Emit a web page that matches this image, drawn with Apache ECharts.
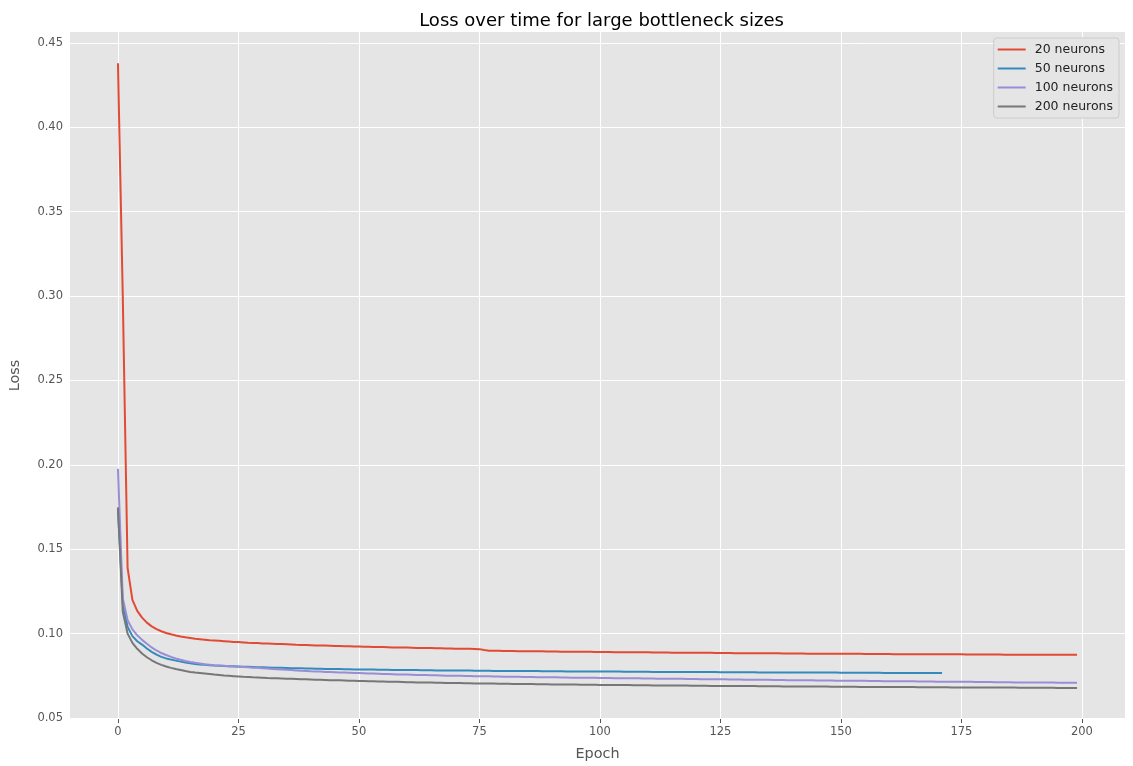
<!DOCTYPE html>
<html>
<head>
<meta charset="utf-8">
<script src="https://cdn.jsdelivr.net/npm/echarts@6/dist/echarts.min.js"></script>
<style>
html,body{margin:0;padding:0;background:#fff;}
#chart{width:1133px;height:766px;}
</style>
</head>
<body>
<div id="chart"></div>
<script>
const seriesNames = ['20 neurons', '50 neurons', '100 neurons', '200 neurons'];
const xTicks = [0, 25, 50, 75, 100, 125, 150, 175, 200];
const yTicks = [0.05, 0.10, 0.15, 0.20, 0.25, 0.30, 0.35, 0.40, 0.45];

const loss20 = [
0.4380,0.3000,0.1390,0.1200,0.1135,0.1095,0.1065,0.1043,0.1027,0.1014,
0.1004,0.0996,0.0989,0.0983,0.0978,0.0974,0.0970,0.0967,0.0964,0.0961,
0.0959,0.0957,0.0955,0.0953,0.0951,0.0950,0.0948,0.0946,0.0945,0.0944,
0.0942,0.0941,0.0940,0.0939,0.0938,0.0937,0.0936,0.0934,0.0933,0.0932,
0.0931,0.0930,0.0929,0.0929,0.0928,0.0927,0.0926,0.0925,0.0925,0.0924,
0.0923,0.0922,0.0922,0.0921,0.0920,0.0920,0.0919,0.0918,0.0918,0.0917,
0.0917,0.0916,0.0915,0.0915,0.0914,0.0914,0.0913,0.0913,0.0912,0.0912,
0.0911,0.0911,0.0910,0.0910,0.0909,0.0908,0.0903,0.0899,0.0898,0.0898,
0.0897,0.0897,0.0897,0.0896,0.0896,0.0896,0.0895,0.0895,0.0895,0.0894,
0.0894,0.0894,0.0893,0.0893,0.0893,0.0893,0.0892,0.0892,0.0892,0.0891,
0.0891,0.0891,0.0891,0.0890,0.0890,0.0890,0.0890,0.0889,0.0889,0.0889,
0.0889,0.0888,0.0888,0.0888,0.0888,0.0887,0.0887,0.0887,0.0887,0.0886,
0.0886,0.0886,0.0886,0.0886,0.0885,0.0885,0.0885,0.0885,0.0884,0.0884,
0.0884,0.0884,0.0884,0.0883,0.0883,0.0883,0.0883,0.0883,0.0882,0.0882,
0.0882,0.0882,0.0882,0.0881,0.0881,0.0881,0.0881,0.0881,0.0881,0.0880,
0.0880,0.0880,0.0880,0.0880,0.0880,0.0879,0.0879,0.0879,0.0879,0.0879,
0.0879,0.0878,0.0878,0.0878,0.0878,0.0878,0.0878,0.0878,0.0877,0.0877,
0.0877,0.0877,0.0877,0.0877,0.0877,0.0877,0.0876,0.0876,0.0876,0.0876,
0.0876,0.0876,0.0876,0.0876,0.0875,0.0875,0.0875,0.0875,0.0875,0.0875,
0.0875,0.0875,0.0875,0.0874,0.0874,0.0874,0.0874,0.0874,0.0874,0.0874
];

const loss50 = [
0.1740,0.1180,0.1040,0.0985,0.0955,0.0935,0.0912,0.0892,0.0875,0.0862,
0.0853,0.0846,0.0840,0.0834,0.0829,0.0824,0.0820,0.0817,0.0815,0.0813,
0.0811,0.0810,0.0808,0.0807,0.0806,0.0805,0.0804,0.0803,0.0802,0.0801,
0.0800,0.0799,0.0798,0.0797,0.0797,0.0796,0.0795,0.0795,0.0794,0.0793,
0.0793,0.0792,0.0792,0.0791,0.0791,0.0790,0.0790,0.0789,0.0789,0.0788,
0.0788,0.0788,0.0787,0.0787,0.0786,0.0786,0.0786,0.0785,0.0785,0.0785,
0.0784,0.0784,0.0784,0.0783,0.0783,0.0783,0.0782,0.0782,0.0782,0.0782,
0.0781,0.0781,0.0781,0.0781,0.0780,0.0780,0.0780,0.0780,0.0779,0.0779,
0.0779,0.0779,0.0779,0.0778,0.0778,0.0778,0.0778,0.0778,0.0777,0.0777,
0.0777,0.0777,0.0777,0.0776,0.0776,0.0776,0.0776,0.0776,0.0776,0.0775,
0.0775,0.0775,0.0775,0.0775,0.0775,0.0774,0.0774,0.0774,0.0774,0.0774,
0.0774,0.0773,0.0773,0.0773,0.0773,0.0773,0.0773,0.0773,0.0772,0.0772,
0.0772,0.0772,0.0772,0.0772,0.0772,0.0771,0.0771,0.0771,0.0771,0.0771,
0.0771,0.0771,0.0771,0.0770,0.0770,0.0770,0.0770,0.0770,0.0770,0.0770,
0.0770,0.0769,0.0769,0.0769,0.0769,0.0769,0.0769,0.0769,0.0769,0.0769,
0.0768,0.0768,0.0768,0.0768,0.0768,0.0768,0.0768,0.0768,0.0768,0.0767,
0.0767,0.0767,0.0767,0.0767,0.0767,0.0767,0.0767,0.0767,0.0767,0.0766,
0.0766,0.0766
];

const loss100 = [
0.1976,0.1210,0.1080,0.1025,0.0990,0.0963,0.0940,0.0918,0.0900,0.0885,
0.0873,0.0862,0.0853,0.0845,0.0838,0.0832,0.0827,0.0823,0.0819,0.0816,
0.0813,0.0811,0.0809,0.0807,0.0805,0.0804,0.0802,0.0800,0.0798,0.0797,
0.0795,0.0793,0.0791,0.0789,0.0787,0.0786,0.0784,0.0782,0.0780,0.0779,
0.0777,0.0776,0.0775,0.0773,0.0772,0.0771,0.0770,0.0769,0.0768,0.0767,
0.0766,0.0765,0.0764,0.0763,0.0762,0.0761,0.0760,0.0759,0.0758,0.0757,
0.0757,0.0756,0.0755,0.0755,0.0754,0.0753,0.0753,0.0752,0.0751,0.0751,
0.0750,0.0750,0.0749,0.0749,0.0748,0.0748,0.0747,0.0747,0.0746,0.0746,
0.0745,0.0745,0.0744,0.0744,0.0743,0.0743,0.0743,0.0742,0.0742,0.0741,
0.0741,0.0741,0.0740,0.0740,0.0739,0.0739,0.0739,0.0738,0.0738,0.0738,
0.0737,0.0737,0.0737,0.0736,0.0736,0.0736,0.0735,0.0735,0.0735,0.0734,
0.0734,0.0734,0.0733,0.0733,0.0733,0.0732,0.0732,0.0732,0.0731,0.0731,
0.0731,0.0730,0.0730,0.0730,0.0729,0.0729,0.0729,0.0728,0.0728,0.0728,
0.0727,0.0727,0.0727,0.0726,0.0726,0.0726,0.0725,0.0725,0.0725,0.0724,
0.0724,0.0724,0.0723,0.0723,0.0723,0.0722,0.0722,0.0722,0.0722,0.0721,
0.0721,0.0721,0.0720,0.0720,0.0720,0.0720,0.0719,0.0719,0.0719,0.0718,
0.0718,0.0718,0.0718,0.0717,0.0717,0.0717,0.0716,0.0716,0.0716,0.0716,
0.0715,0.0715,0.0715,0.0715,0.0714,0.0714,0.0714,0.0714,0.0713,0.0713,
0.0713,0.0713,0.0712,0.0712,0.0712,0.0712,0.0711,0.0711,0.0711,0.0711,
0.0711,0.0710,0.0710,0.0710,0.0710,0.0709,0.0709,0.0709,0.0709,0.0709
];

const loss200 = [
0.1748,0.1130,0.1000,0.0945,0.0910,0.0882,0.0860,0.0842,0.0827,0.0815,
0.0805,0.0797,0.0790,0.0784,0.0778,0.0773,0.0769,0.0766,0.0763,0.0760,
0.0757,0.0755,0.0752,0.0750,0.0748,0.0746,0.0744,0.0743,0.0741,0.0740,
0.0739,0.0737,0.0736,0.0735,0.0734,0.0733,0.0732,0.0731,0.0730,0.0729,
0.0728,0.0727,0.0726,0.0725,0.0724,0.0723,0.0723,0.0722,0.0721,0.0720,
0.0719,0.0719,0.0718,0.0717,0.0716,0.0716,0.0715,0.0714,0.0714,0.0713,
0.0712,0.0712,0.0711,0.0711,0.0710,0.0710,0.0709,0.0709,0.0708,0.0708,
0.0707,0.0707,0.0706,0.0706,0.0705,0.0705,0.0705,0.0704,0.0704,0.0703,
0.0703,0.0703,0.0702,0.0702,0.0701,0.0701,0.0701,0.0700,0.0700,0.0700,
0.0699,0.0699,0.0699,0.0698,0.0698,0.0698,0.0697,0.0697,0.0697,0.0697,
0.0696,0.0696,0.0696,0.0695,0.0695,0.0695,0.0695,0.0694,0.0694,0.0694,
0.0694,0.0693,0.0693,0.0693,0.0693,0.0692,0.0692,0.0692,0.0692,0.0691,
0.0691,0.0691,0.0691,0.0690,0.0690,0.0690,0.0690,0.0690,0.0689,0.0689,
0.0689,0.0689,0.0689,0.0688,0.0688,0.0688,0.0688,0.0688,0.0687,0.0687,
0.0687,0.0687,0.0687,0.0686,0.0686,0.0686,0.0686,0.0686,0.0685,0.0685,
0.0685,0.0685,0.0685,0.0685,0.0684,0.0684,0.0684,0.0684,0.0684,0.0684,
0.0683,0.0683,0.0683,0.0683,0.0683,0.0683,0.0682,0.0682,0.0682,0.0682,
0.0682,0.0682,0.0682,0.0681,0.0681,0.0681,0.0681,0.0681,0.0681,0.0681,
0.0680,0.0680,0.0680,0.0680,0.0680,0.0680,0.0680,0.0679,0.0679,0.0679,
0.0679,0.0679,0.0679,0.0679,0.0679,0.0678,0.0678,0.0678,0.0678,0.0678
];

const colors = ['#E24A33', '#348ABD', '#988ED5', '#777777'];
const allLoss = [loss20, loss50, loss100, loss200];

const FONT = 'DejaVu Sans';
const chart = echarts.init(document.getElementById('chart'), null, {renderer: 'canvas'});

const lineSeries = allLoss.map((arr, i) => ({
  name: seriesNames[i],
  type: 'line',
  data: arr.map((v, k) => [k, v]),
  showSymbol: false,
  symbol: 'none',
  lineStyle: {color: colors[i], width: 2},
  itemStyle: {color: colors[i]},
  z: 10
}));

const gridSeries = {
  name: '__grid',
  type: 'line',
  data: [],
  silent: true,
  z: 1,
  markLine: {
    silent: true,
    z: 1,
    symbol: ['none', 'none'],
    animation: false,
    label: {show: false},
    lineStyle: {color: '#ffffff', width: 1, type: 'solid'},
    emphasis: {disabled: true},
    data: xTicks.map(v => ({xAxis: v})).concat(yTicks.map(v => ({yAxis: v})))
  }
};

chart.setOption({
  animation: false,
  backgroundColor: '#ffffff',
  title: {
    text: 'Loss over time for large bottleneck sizes',
    left: 596.5,
    textAlign: 'center',
    top: 7,
    textStyle: {fontFamily: FONT, fontSize: 18, fontWeight: 'normal', color: '#000'}
  },
  legend: {
    data: seriesNames,
    orient: 'vertical',
    right: 14,
    top: 38,
    z: 20,
    icon: 'rect',
    itemWidth: 28,
    itemHeight: 2,
    itemGap: 4,
    padding: [4, 6, 4, 4],
    backgroundColor: '#e5e5e5',
    borderColor: '#cccccc',
    borderWidth: 1,
    borderRadius: 3,
    textStyle: {fontFamily: FONT, fontSize: 12.5, color: '#222', lineHeight: 15, padding: [0, 0, 0, 4]}
  },
  grid: {
    left: 68, right: 8, top: 32, bottom: 47,
    show: true, backgroundColor: '#e5e5e5', borderWidth: 0
  },
  xAxis: {
    type: 'value',
    min: -9.95,
    max: 208.95,
    name: 'Epoch',
    nameLocation: 'middle',
    nameGap: 28,
    nameTextStyle: {fontFamily: FONT, fontSize: 14.4, color: '#555'},
    axisLine: {show: false},
    splitLine: {show: false},
    axisTick: {show: true, customValues: xTicks, length: 4, lineStyle: {color: '#555'}},
    axisLabel: {customValues: xTicks, fontFamily: FONT, fontSize: 11.5, color: '#555', margin: 7,
      formatter: v => String(Math.round(v))}
  },
  yAxis: {
    type: 'value',
    min: 0.0494,
    max: 0.4565,
    name: 'Loss',
    nameLocation: 'middle',
    nameGap: 48,
    nameRotate: 90,
    nameTextStyle: {fontFamily: FONT, fontSize: 14.4, color: '#555'},
    axisLine: {show: false},
    splitLine: {show: false},
    axisTick: {show: true, customValues: yTicks, length: 4, lineStyle: {color: '#555'}},
    axisLabel: {customValues: yTicks, fontFamily: FONT, fontSize: 11.5, color: '#555', margin: 7,
      formatter: v => v.toFixed(2)}
  },
  series: [gridSeries].concat(lineSeries)
});
</script>
</body>
</html>
